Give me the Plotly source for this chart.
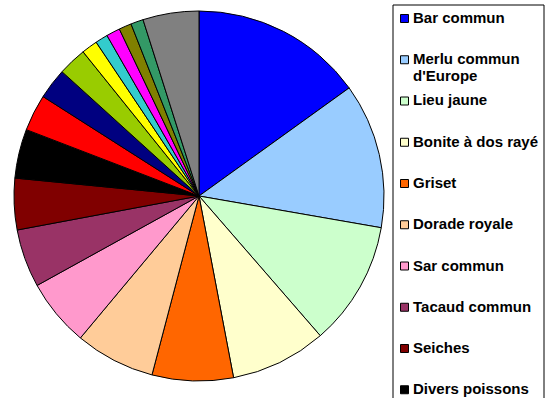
import plotly.graph_objects as go

W, H = 546, 398

labels = [
    "Bar commun", "Merlu commun d'Europe", "Lieu jaune", "Bonite à dos rayé",
    "Griset", "Dorade royale", "Sar commun", "Tacaud commun", "Seiches",
    "Divers poissons", "Congre", "Maquereau", "Rouget barbet", "Sole",
    "Mulet", "Vieille", "Chinchard", "Lieu noir", "Autres",
]
values = [15.1, 12.7, 10.9, 8.4, 7.1, 7.0, 5.9, 5.1, 4.5, 4.3,
          3.2, 2.7, 2.5, 1.4, 1.1, 1.2, 1.1, 1.1, 4.9]
colors = [
    "#0000FF", "#99CCFF", "#CCFFCC", "#FFFFCC", "#FF6600", "#FFCC99",
    "#FF99CC", "#993366", "#800000", "#000000", "#FF0000", "#000080",
    "#99CC00", "#FFFF00", "#33CCCC", "#FF00FF", "#808000", "#339966",
    "#808080",
]

fig = go.Figure(go.Pie(
    labels=labels, values=values, sort=False, direction="clockwise",
    rotation=0, textinfo="none", hoverinfo="label+percent",
    marker=dict(colors=colors, line=dict(color="#000000", width=1)),
    domain=dict(x=[14 / W, 384 / W], y=[17 / H, 387 / H]),
    showlegend=False,
))

shapes = []
annotations = []

def px(x):
    return x / W

def py(y):
    return 1 - y / H

# legend box (extends past the bottom edge, as in the reference)
shapes.append(dict(type="rect", xref="paper", yref="paper",
                   x0=px(393), x1=px(544), y0=py(H + 20), y1=py(5),
                   line=dict(color="#000000", width=1), fillcolor="rgba(0,0,0,0)"))

font = dict(family="Liberation Sans, Arial, sans-serif", size=15, color="#000000")
for i, (lab, col) in enumerate(zip(labels, colors)):
    yc = 17.5 + 41.25 * i
    if yc > H + 5:
        break
    shapes.append(dict(type="rect", xref="paper", yref="paper",
                       x0=px(400.5), x1=px(408.5), y0=py(yc + 5), y1=py(yc - 3),
                       line=dict(color="#000000", width=1), fillcolor=col))
    parts = lab.rsplit(" ", 1) if len(lab) > 18 else [lab]
    for j, part in enumerate(parts):
        annotations.append(dict(xref="paper", yref="paper", x=px(411), y=py(yc + 17 * j),
                                xanchor="left", yanchor="middle", showarrow=False,
                                text="<b>" + part + "</b>", font=font))

fig.update_layout(
    width=W, height=H, margin=dict(l=0, r=0, t=0, b=0),
    paper_bgcolor="#FFFFFF", plot_bgcolor="#FFFFFF",
    shapes=shapes, annotations=annotations,
)

fig.write_html("out.html", config={"displayModeBar": False},
               post_script="document.body.style.margin='0';document.body.style.overflow='hidden';")
